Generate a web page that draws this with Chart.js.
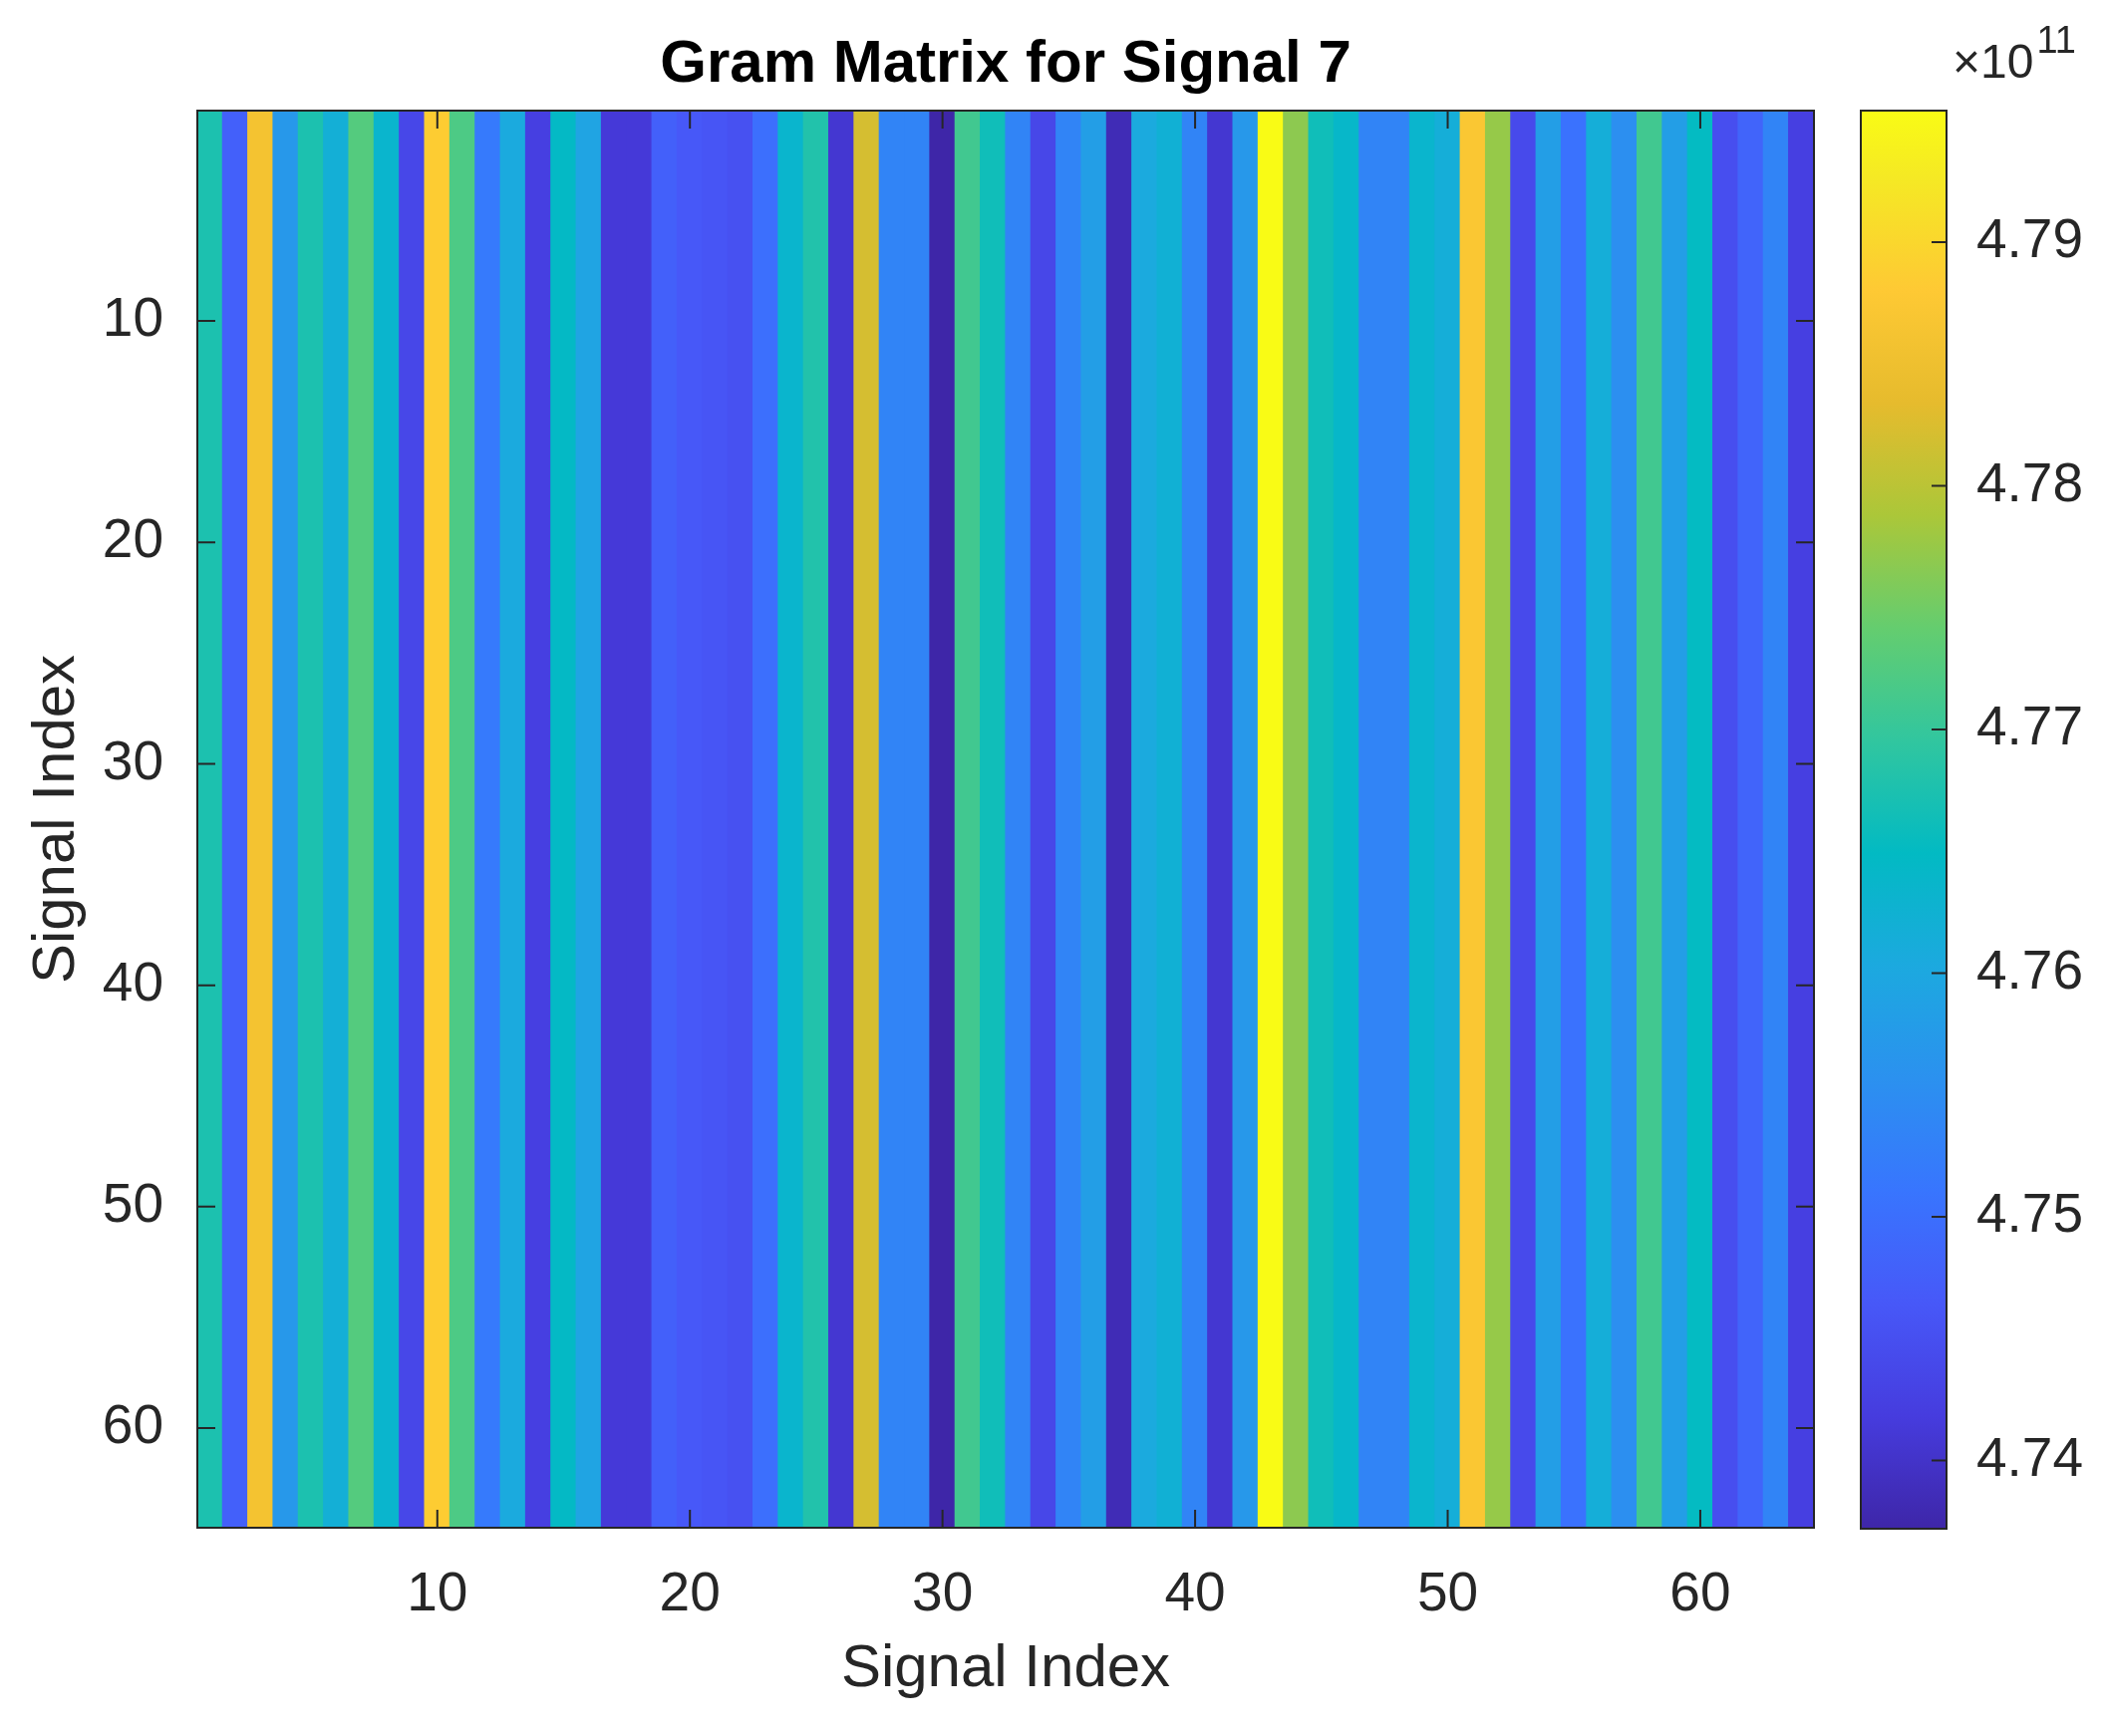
<!DOCTYPE html>
<html>
<head>
<meta charset="utf-8">
<title>Gram Matrix for Signal 7</title>
<script src="https://cdn.jsdelivr.net/npm/chart.js@4.4.1/dist/chart.umd.min.js"></script>
<style>
  html, body { margin: 0; padding: 0; background: #fff; }
  #wrap { position: relative; width: 2110px; height: 1742px; }
  #main { position: absolute; left: 0; top: 0; }
  #cbar { position: absolute; left: 1860px; top: 0; }
</style>
</head>
<body>
<div id="wrap">
  <canvas id="main" width="1860" height="1742"></canvas>
  <canvas id="cbar" width="250" height="1742"></canvas>
</div>
<script>
// column index of the Gram matrix (every row carries the same values)
const signalIdx = Array.from({ length: 64 }, (_, i) => i + 1);
const rowIdx = Array.from({ length: 64 }, (_, i) => i + 1);

// value of each column, in units of 1e11
const gramCols = [
  4.7675, 4.7477, 4.7861, 4.7570, 4.7675, 4.7618, 4.7727, 4.7634,
  4.7436, 4.7884, 4.7721, 4.7518, 4.7605, 4.7424, 4.7646, 4.7593,
  4.7413, 4.7413, 4.7477, 4.7465, 4.7459, 4.7453, 4.7500, 4.7634,
  4.7680, 4.7407, 4.7820, 4.7535, 4.7535, 4.7372, 4.7710, 4.7663,
  4.7535, 4.7436, 4.7535, 4.7582, 4.7384, 4.7605, 4.7622, 4.7535,
  4.7407, 4.7570, 4.7954, 4.7768, 4.7663, 4.7640, 4.7535, 4.7535,
  4.7634, 4.7616, 4.7873, 4.7774, 4.7442, 4.7582, 4.7506, 4.7616,
  4.7552, 4.7710, 4.7582, 4.7651, 4.7448, 4.7483, 4.7535, 4.7424
];

const axisTicks = [10, 20, 30, 40, 50, 60];
const cbarTicks = [4.74, 4.75, 4.76, 4.77, 4.78, 4.79];
const cbarExp = '11';

const FONT = '"Liberation Sans", Arial, Helvetica, sans-serif';
const AX = '#262626';

// parula colormap stops: [position, r, g, b]
const PARULA = [
  [0.0000, 0.2422, 0.1504, 0.6603],
  [0.0794, 0.2751, 0.2342, 0.8710],
  [0.1587, 0.2795, 0.3447, 0.9717],
  [0.2381, 0.2206, 0.4603, 0.9973],
  [0.3175, 0.1687, 0.5703, 0.9359],
  [0.3968, 0.1113, 0.6635, 0.8763],
  [0.4762, 0.0067, 0.7312, 0.7660],
  [0.5556, 0.1938, 0.7758, 0.6251],
  [0.6349, 0.3909, 0.8029, 0.4354],
  [0.7143, 0.6720, 0.7793, 0.2227],
  [0.7937, 0.9035, 0.7330, 0.1774],
  [0.8730, 0.9952, 0.7893, 0.2028],
  [0.9524, 0.9597, 0.9135, 0.1423],
  [1.0000, 0.9769, 0.9839, 0.0805]
];

function parula(t) {
  t = Math.min(1, Math.max(0, t));
  let i = 0;
  while (i < PARULA.length - 2 && t > PARULA[i + 1][0]) i++;
  const a = PARULA[i], b = PARULA[i + 1];
  const u = (t - a[0]) / (b[0] - a[0]);
  const c = [1, 2, 3].map(k => Math.round(255 * (a[k] + (b[k] - a[k]) * u)));
  return `rgb(${c[0]},${c[1]},${c[2]})`;
}

const lo = Math.min(...gramCols);
const hi = Math.max(...gramCols);

// box + inward ticks on all four sides, like matlab axes
const boxPlugin = {
  id: 'box',
  afterDatasetsDraw(chart, args, opts) {
    const { ctx, chartArea: a, scales } = chart;
    const L = opts.len;
    ctx.save();
    ctx.strokeStyle = AX;
    ctx.lineWidth = 2;
    ctx.beginPath();
    if (opts.xTicks) {
      scales.x.ticks.forEach(t => {
        const px = scales.x.getPixelForValue(t.value);
        ctx.moveTo(px, a.top); ctx.lineTo(px, a.top + L);
        ctx.moveTo(px, a.bottom); ctx.lineTo(px, a.bottom - L);
      });
    }
    scales.y.ticks.forEach(t => {
      const py = scales.y.getPixelForValue(t.value);
      if (opts.leftTicks) { ctx.moveTo(a.left, py); ctx.lineTo(a.left + L, py); }
      ctx.moveTo(a.right, py); ctx.lineTo(a.right - L, py);
    });
    ctx.stroke();
    ctx.strokeRect(a.left, a.top, a.right - a.left, a.bottom - a.top);
    ctx.restore();
  }
};

new Chart(document.getElementById('main'), {
  type: 'bar',
  data: {
    datasets: [{
      data: gramCols.map((v, i) => ({ x: signalIdx[i], y: [rowIdx[0] - 0.5, rowIdx[rowIdx.length - 1] + 0.5] })),
      backgroundColor: c => parula((gramCols[c.dataIndex] - lo) / (hi - lo)),
      borderWidth: 0,
      inflateAmount: 0.6,
      barPercentage: 1,
      categoryPercentage: 1
    }]
  },
  options: {
    responsive: false,
    animation: false,
    layout: { padding: { left: 0, right: 40, top: 0, bottom: 0 } },
    plugins: {
      legend: { display: false },
      tooltip: { enabled: false },
      title: {
        display: true,
        text: 'Gram Matrix for Signal 7',
        fullSize: false,
        color: '#000',
        font: { family: FONT, size: 60, weight: 'bold', lineHeight: 1.2 },
        padding: { top: 29, bottom: 10 }
      },
      box: { len: 18, xTicks: true, leftTicks: true }
    },
    scales: {
      x: {
        type: 'linear',
        offset: false,
        min: 0.5,
        max: 64.5,
        afterBuildTicks: s => { s.ticks = axisTicks.map(v => ({ value: v })); },
        afterFit: s => { s.height = 209; },
        grid: { display: false, offset: false },
        border: { display: false },
        ticks: { color: AX, padding: 27, maxRotation: 0, font: { family: FONT, size: 55 } },
        title: {
          display: true, text: 'Signal Index', color: AX,
          font: { family: FONT, size: 60, lineHeight: 1.2 },
          padding: { top: 0, bottom: 31 }
        }
      },
      y: {
        type: 'linear',
        reverse: true,
        min: 0.5,
        max: 64.5,
        afterBuildTicks: s => { s.ticks = axisTicks.map(v => ({ value: v })); },
        afterFit: s => { s.width = 198; },
        grid: { display: false },
        border: { display: false },
        ticks: { color: AX, padding: 26, font: { family: FONT, size: 55 } },
        title: {
          display: true, text: 'Signal Index', color: AX,
          font: { family: FONT, size: 60, lineHeight: 1.2 },
          padding: { top: 21, bottom: 0 }
        }
      }
    }
  },
  plugins: [boxPlugin]
});

// exponent label above the colorbar
const expPlugin = {
  id: 'exp',
  afterDraw(chart) {
    const { ctx, chartArea: a } = chart;
    ctx.save();
    ctx.fillStyle = AX;
    ctx.textBaseline = 'alphabetic';
    ctx.font = `48px ${FONT}`;
    const base = '\u00d710';
    ctx.fillText(base, a.left + 92, a.top - 33);
    const w = ctx.measureText(base).width;
    ctx.font = `38px ${FONT}`;
    ctx.fillText(cbarExp, a.left + 92 + w + 3, a.top - 58);
    ctx.restore();
  }
};

new Chart(document.getElementById('cbar'), {
  type: 'bar',
  data: {
    labels: ['cbar'],
    datasets: [{
      data: [[lo, hi]],
      backgroundColor: c => {
        const ch = c.chart;
        if (!ch.chartArea) return null;
        const y = ch.scales.y;
        const g = ch.ctx.createLinearGradient(0, y.getPixelForValue(lo), 0, y.getPixelForValue(hi));
        PARULA.forEach(s => g.addColorStop(s[0], parula(s[0])));
        return g;
      },
      borderWidth: 0,
      barPercentage: 1,
      categoryPercentage: 1
    }]
  },
  options: {
    responsive: false,
    animation: false,
    layout: { padding: { left: 7, right: 0, top: 111, bottom: 208 } },
    plugins: {
      legend: { display: false },
      tooltip: { enabled: false },
      box: { len: 15, xTicks: false, leftTicks: false }
    },
    scales: {
      x: { display: false },
      y: {
        position: 'right',
        min: lo,
        max: hi,
        afterBuildTicks: s => { s.ticks = cbarTicks.map(v => ({ value: v })); },
        afterFit: s => { s.width = 157; },
        grid: { display: false },
        border: { display: false },
        ticks: {
          color: AX, padding: 22,
          font: { family: FONT, size: 55 },
          callback: v => Number(v).toFixed(2)
        }
      }
    }
  },
  plugins: [boxPlugin, expPlugin]
});
</script>
</body>
</html>
